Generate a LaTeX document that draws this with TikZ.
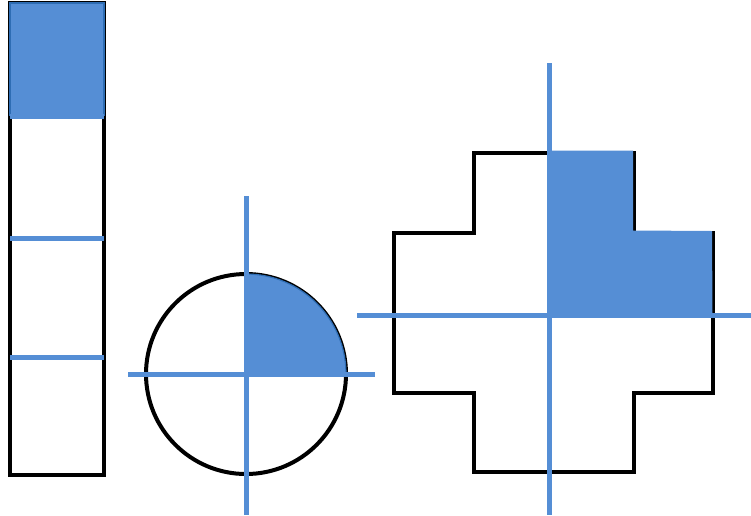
\documentclass[tikz,border=0pt]{standalone}
\definecolor{cblue}{HTML}{558ED5}
\definecolor{cdark}{HTML}{2E6DB4}
\tikzset{
  outline/.style={draw=black, line width=4pt, line join=miter},
  axis/.style={draw=cblue, line width=5pt},
  shade/.style={fill=cblue, draw=cdark, line width=1.2pt}
}
\begin{document}
\begin{tikzpicture}[x=1pt, y=-1pt]
\useasboundingbox (0,0) rectangle (751,515);
% left column
\draw[outline] (10,3) rectangle (104,475);
\draw[shade] (10,3) rectangle (104,115);
\draw[axis] (10,116) -- (104,116);
\draw[axis] (10,238) -- (104,238);
\draw[axis] (10,357) -- (104,357);
% circle
\draw[outline] (246,374) circle (100);
\draw[shade] (246,374) -- (346,374) arc[start angle=0, end angle=90, x radius=100, y radius=-100] -- cycle;
\draw[axis] (246,196) -- (246,515);
\draw[axis] (128,374) -- (375,374);
% cross
\draw[outline] (474,153) -- (634,153) -- (634,233) -- (713,233) -- (713,393) -- (634,393)
  -- (634,472) -- (474,472) -- (474,393) -- (394,393) -- (394,233) -- (474,233) -- cycle;
\fill[cblue] (549,150.5) -- (633,150.5) -- (633,230.5) -- (712,231) -- (712.5,315) -- (549,315) -- cycle;
\draw[axis] (549,63) -- (549,515);
\draw[axis] (357,315) -- (751,315);
\end{tikzpicture}
\end{document}
